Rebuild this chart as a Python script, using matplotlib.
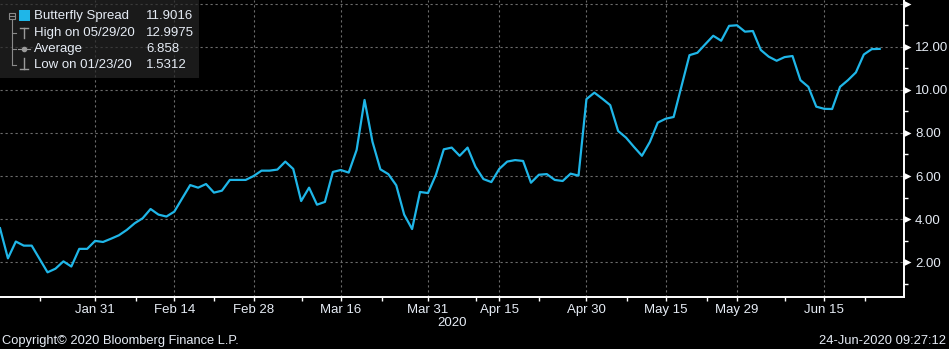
import matplotlib.pyplot as plt
from matplotlib.lines import Line2D
from matplotlib.patches import Rectangle
import numpy as np

# Butterfly Spread, one value per trading day (Jan 14 .. Jun 24, 2020)
spread = [
    3.58, 2.18, 2.96, 2.77, 2.77, 2.15, 1.5312, 1.70, 2.04, 1.80, 2.62, 2.62,
    2.99, 2.94, 3.09, 3.25, 3.50, 3.81, 4.04, 4.47, 4.21, 4.12, 4.35, 4.97,
    5.58, 5.46, 5.63, 5.23, 5.32, 5.82, 5.82,
    5.82, 6.00, 6.25, 6.25, 6.30, 6.67, 6.33, 4.84, 5.46, 4.67, 4.80, 6.19,
    6.28, 6.16, 7.21, 9.53, 7.59, 6.31, 6.09, 5.57, 4.21, 3.54, 5.26, 5.21,
    6.05, 7.24, 7.32, 6.94, 7.32,
    6.43, 5.86, 5.72, 6.33, 6.67, 6.74, 6.70, 5.69, 6.06, 6.09, 5.82, 5.77,
    6.11, 6.02, 9.57, 9.87, 9.59, 9.29, 8.09, 7.78, 7.35, 6.94, 7.58, 8.48,
    8.66, 8.74, 10.18, 11.61, 11.72,
    12.12, 12.51, 12.28, 12.97, 12.9975, 12.70, 12.73, 11.85, 11.54, 11.35,
    11.52, 11.57, 10.45, 10.14, 9.22, 9.12, 9.11, 10.14, 10.45, 10.81, 11.64,
    11.89, 11.9016,
]

date_labels = ["Jan 31", "Feb 14", "Feb 28", "Mar 16", "Mar 31",
               "Apr 15", "Apr 30", "May 15", "May 29", "Jun 15"]
date_index = [12, 22, 32, 43, 54, 63, 74, 84, 93, 104]
week_index = [5.1, 17.1, 27, 38.1, 48.2, 60.1, 68.05, 79.1, 89.2, 99.1, 109.1]

y_ticks = [2, 4, 6, 8, 10, 12, 14]

legend_rows = [("Butterfly Spread", "11.9016"),
               ("High on 05/29/20", "12.9975"),
               ("Average", "6.858"),
               ("Low on 01/23/20", "1.5312")]

CYAN = '#1fb6e8'
TXT = '#e6ecf5'
W, H = 949, 349

plt.rcParams['font.family'] = ['Liberation Sans', 'DejaVu Sans']

fig = plt.figure(figsize=(W / 100, H / 100), dpi=100, facecolor='black')
ax = fig.add_axes([0, (H - 296.7) / H, 904 / W, 296.7 / H], facecolor='black')

x = np.arange(len(spread))
ax.plot(x, spread, color=CYAN, lw=1.6, zorder=3)

ax.set_xlim(0, 114.07)
ax.set_ylim(0.40, 14.17)

for s in ['left', 'top']:
    ax.spines[s].set_visible(False)
for s in ['bottom', 'right']:
    ax.spines[s].set_color('white')
    ax.spines[s].set_linewidth(1.4)

ax.set_xticks(date_index)
ax.set_xticklabels(date_labels)
ax.set_xticks(week_index, minor=True)
ax.tick_params(axis='x', which='both', colors='white', length=3, width=1,
               labelcolor=TXT, labelsize=9.5, pad=2)

ax.yaxis.tick_right()
ax.set_yticks(y_ticks)
ax.set_yticklabels([f"{v:.2f}" if v < 14 else "" for v in y_ticks])
ax.set_yticks(np.arange(1, 14, 2), minor=True)
ax.tick_params(axis='y', which='major', length=0, pad=8, labelcolor=TXT,
               labelsize=9.5)
ax.tick_params(axis='y', which='minor', length=3, width=1, colors='white')

# arrow-like major tick markers on the right axis
tri = [(0, -0.5), (0, 0.5), (1, 0), (0, -0.5)]
ax.plot([1.0] * len(y_ticks), y_ticks, linestyle='none', marker=tri,
        markersize=10, color='white', markeredgewidth=0,
        transform=ax.get_yaxis_transform(), clip_on=False, zorder=5)

ax.grid(True, which='major', color='#6c6c6c', linestyle=(0, (2, 2.5)), lw=0.8)
ax.set_axisbelow(True)


def fx(px):
    return px / W


def fy(py):
    return 1 - py / H


# legend box
fig.add_artist(Rectangle((0, fy(78)), fx(199), 78 / H, transform=fig.transFigure,
                         facecolor='#262626', alpha=0.7, edgecolor='none', zorder=10))
gray = '#8a8a8a'
row_y = [16, 33, 49, 65]
# tree lines
fig.add_artist(Rectangle((fx(8.5), fy(19)), fx(6.5), 6.5 / H, transform=fig.transFigure,
                         facecolor='none', edgecolor=gray, lw=0.8, zorder=11))
fig.add_artist(Line2D([fx(10), fx(13.5)], [fy(15.7)] * 2, transform=fig.transFigure,
                      color=gray, lw=0.8, zorder=11))
fig.add_artist(Line2D([fx(12)] * 2, [fy(19), fy(65)], transform=fig.transFigure,
                      color=gray, lw=0.8, zorder=11))
for ry in row_y[1:]:
    fig.add_artist(Line2D([fx(12), fx(16)], [fy(ry)] * 2, transform=fig.transFigure,
                          color=gray, lw=0.8, zorder=11))
# series swatch
fig.add_artist(Rectangle((fx(18.5), fy(21)), fx(11.5), 11 / H, transform=fig.transFigure,
                         facecolor=CYAN, edgecolor='none', zorder=11))
# high / average / low glyphs
mk = '#9a9a9a'
fig.add_artist(Line2D([fx(20), fx(28)], [fy(28)] * 2, transform=fig.transFigure, color=mk, lw=1, zorder=11))
fig.add_artist(Line2D([fx(24)] * 2, [fy(28), fy(38)], transform=fig.transFigure, color=mk, lw=1, zorder=11))
fig.add_artist(Line2D([fx(18), fx(30)], [fy(49)] * 2, transform=fig.transFigure, color=mk, lw=0.8, zorder=11))
fig.add_artist(Line2D([fx(24)], [fy(49)], transform=fig.transFigure, color=mk, marker='o',
                      markersize=3, zorder=11))
fig.add_artist(Line2D([fx(24)] * 2, [fy(58), fy(69)], transform=fig.transFigure, color=mk, lw=1, zorder=11))
fig.add_artist(Line2D([fx(20), fx(28)], [fy(69)] * 2, transform=fig.transFigure, color=mk, lw=1, zorder=11))

for (name, val), ry in zip(legend_rows, row_y):
    fig.text(fx(34), fy(ry), name, color=TXT, fontsize=9.5, va='center', ha='left', zorder=12)
    fig.text(fx(146), fy(ry), val, color=TXT, fontsize=9.5, va='center', ha='left', zorder=12)

fig.text(fx(452), fy(323), "2020", color=TXT, fontsize=9.5, ha='center', va='center')
fig.text(fx(2), fy(341), "Copyright\u00a9 2020 Bloomberg Finance L.P.", color=TXT,
         fontsize=9.3, ha='left', va='center')
fig.text(fx(946), fy(341), "24-Jun-2020 09:27:12", color=TXT, fontsize=9.3,
         ha='right', va='center')

fig.savefig('out.png', dpi=100, facecolor='black')
